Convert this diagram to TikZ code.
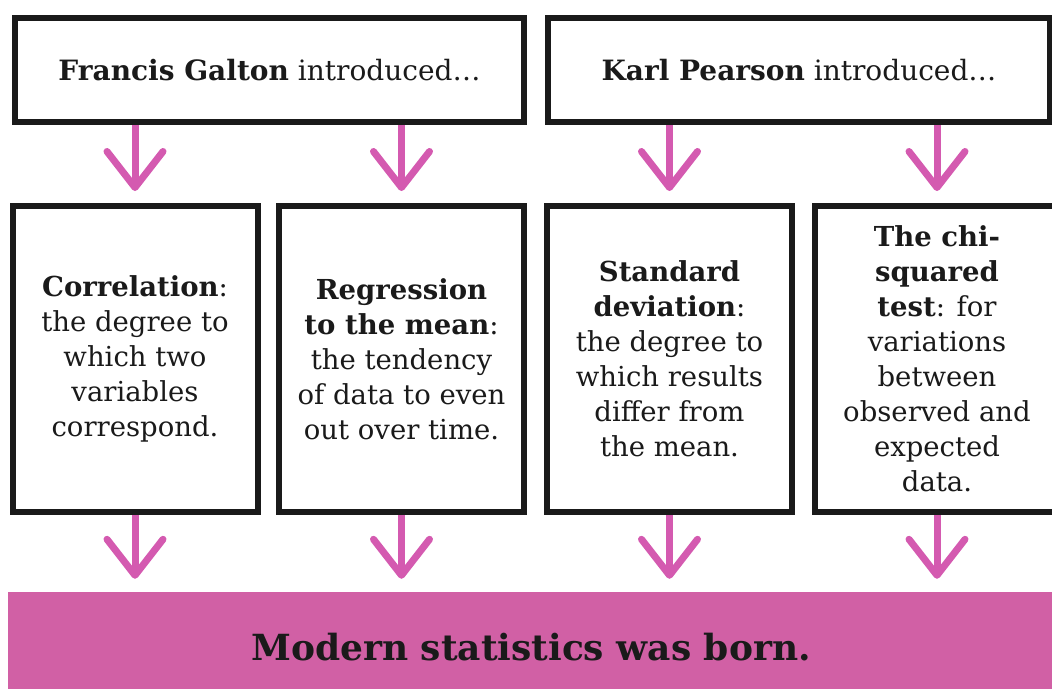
\documentclass[tikz,border=0pt]{standalone}
\usepackage{fontspec}
\setmainfont{DejaVu Serif}
\usetikzlibrary{arrows.meta}

\definecolor{arrowpink}{RGB}{212,90,176}
\definecolor{barpink}{RGB}{209,96,165}
\definecolor{inkblack}{RGB}{26,26,26}

\tikzset{
  topbox/.style={draw=inkblack, line width=6pt, minimum height=104pt, inner sep=0pt, text=inkblack, font=\fontsize{28}{34}\selectfont},
  factbox/.style={draw=inkblack, line width=6pt, minimum width=245pt, minimum height=306pt, inner sep=0pt, align=center, text=inkblack, font=\fontsize{27.5}{35}\selectfont},
  pinkarrow/.style={draw=arrowpink, line width=7pt, -{Straight Barb[length=36pt,width=56pt,round]}}
}

\begin{document}
\begin{tikzpicture}[x=1pt,y=-1pt]

\useasboundingbox (0,0) rectangle (1052,688);
\clip (0,0) rectangle (1052,688);

% Who introduced what
\node[topbox, minimum width=509pt] (galton) at (269.5,70) {{\bfseries Francis Galton} introduced\ldots};
\node[topbox, minimum width=502pt] (pearson) at (799,70) {{\bfseries Karl Pearson} introduced\ldots};

% The four ideas
\node[factbox] (corr) at (135,359) {{\bfseries Correlation}:\\the degree to\\which two\\variables\\correspond.};
\node[factbox] (regr) at (401.5,359) {{\bfseries Regression}\\{\bfseries to the mean}:\\the tendency\\of data to even\\out over time.};
\node[factbox] (stdev) at (669.5,359) {{\bfseries Standard}\\{\bfseries deviation}:\\the degree to\\which results\\differ from\\the mean.};
\node[factbox] (chisq) at (937,359) {{\bfseries The chi-}\\{\bfseries squared}\\{\bfseries test}: for\\variations\\between\\observed and\\expected\\data.};

% Result bar
\node[fill=barpink, minimum width=1046pt, minimum height=110pt, inner sep=0pt, text=inkblack, font=\bfseries\fontsize{36}{40}\selectfont] (born) at (531,647) {Modern statistics was born.};

% Arrows
\foreach \idea/\who in {corr/galton, regr/galton, stdev/pearson, chisq/pearson}
{
\draw[pinkarrow, shorten >=12pt] (\idea.north |- \who.south) -- (\idea.north);
\draw[pinkarrow, shorten >=13pt] (\idea.south) -- (\idea.south |- born.north);
}

\end{tikzpicture}
\end{document}
